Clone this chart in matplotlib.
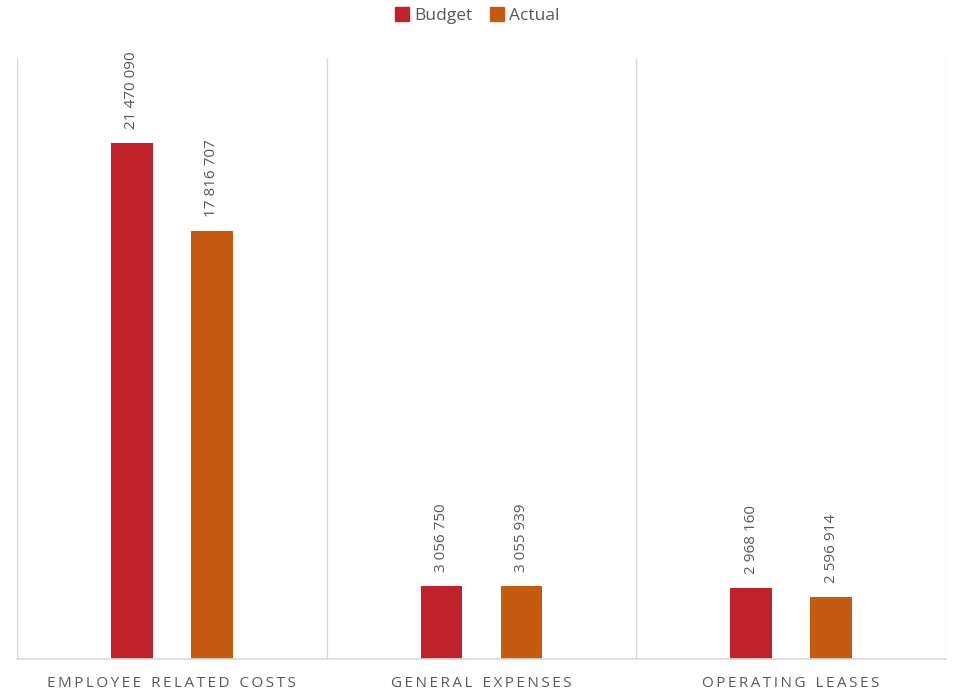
import numpy as np
import matplotlib.pyplot as plt
from matplotlib.patches import Patch

categories = ["EMPLOYEE RELATED COSTS", "GENERAL EXPENSES", "OPERATING LEASES"]
budget = [21470090, 3056750, 2968160]
actual = [17816707, 3055939, 2596914]

BUDGET_COL = "#C0222C"
ACTUAL_COL = "#C55A11"
TEXT_COL = "#595959"
GRID_COL = "#D9D9D9"

plt.rcParams['font.family'] = ['Open Sans', 'DejaVu Sans']

fig = plt.figure(figsize=(9.55, 6.92), dpi=100)
ax = fig.add_axes([0.0178, 0.0477, 0.9728, 0.8683])

x = np.arange(len(categories))
w = 0.135
off = 0.129
b1 = ax.bar(x - off, budget, w, color=BUDGET_COL)
b2 = ax.bar(x + off, actual, w, color=ACTUAL_COL)


def fmt(v):
    return f"{v:,}".replace(",", " ")


for bars, vals in ((b1, budget), (b2, actual)):
    for r, v in zip(bars, vals):
        ax.annotate(fmt(v), (r.get_x() + r.get_width() / 2, r.get_height()),
                    xytext=(0, 10), textcoords="offset points",
                    rotation=90, ha="center", va="bottom",
                    fontsize=11, color=TEXT_COL)

ax.set_xlim(-0.5, len(categories) - 0.5)
ax.set_ylim(0, 25000000)
for s in ("top", "right", "left"):
    ax.spines[s].set_visible(False)
ax.spines["bottom"].set_color(GRID_COL)
ax.spines["bottom"].set_linewidth(1.2)
for xv in np.arange(-0.5, len(categories), 1.0):
    ax.axvline(xv, color=GRID_COL, lw=1.0, zorder=0)

ax.set_yticks([])
ax.set_xticks(x)
spaced = ["\u2009".join(c).replace("\u2009 \u2009", "\u2009\u2009\u2009\u2009") for c in categories]
ax.set_xticklabels(spaced, fontsize=11, color=TEXT_COL)
ax.tick_params(axis="x", length=0, pad=12)

fig.legend(handles=[Patch(color=BUDGET_COL, label="Budget"),
                    Patch(color=ACTUAL_COL, label="Actual")],
           loc="upper center", bbox_to_anchor=(0.5, 1.012), ncol=2, frameon=False,
           fontsize=12.5, handlelength=0.8, handleheight=0.8, handletextpad=0.3,
           columnspacing=1.0, labelcolor=TEXT_COL)

fig.savefig("out.png", dpi=100)
